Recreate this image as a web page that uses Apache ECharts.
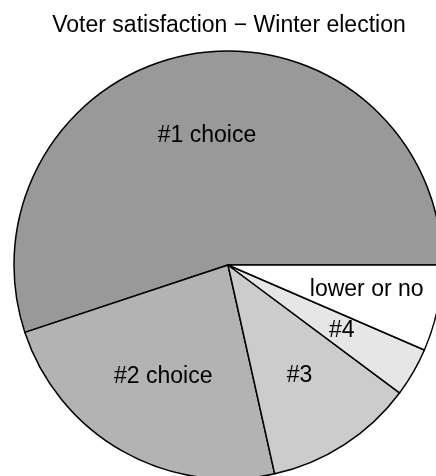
<!DOCTYPE html>
<html>
<head>
<meta charset="utf-8">
<script src="https://cdn.jsdelivr.net/npm/echarts@6/dist/echarts.min.js"></script>
<style>html,body{margin:0;padding:0;background:#fff;}#c{width:436px;height:476px;}</style>
</head>
<body>
<div id="c"></div>
<script>
var titleText = 'Voter satisfaction \u2212 Winter election';
var categories = ['#1 choice', '#2 choice', '#3', '#4', 'lower or no'];
var values = [55.1, 23.4, 11.3, 3.7, 6.5];
var colors = ['#999999', '#b3b3b3', '#cccccc', '#e6e6e6', '#ffffff'];

var FONT = 'Liberation Sans, Arial, sans-serif';
var R = 214;

var mainData = categories.map(function (c, i) {
  return { name: c, value: values[i], itemStyle: { color: colors[i] } };
});
var labelData = categories.map(function (c, i) {
  var d = { name: c, value: values[i] };
  if (i === 4) d.label = { offset: [10, -2] };
  if (i === 1) d.label = { offset: [0, -3] };
  return d;
});

var chart = echarts.init(document.getElementById('c'));
chart.setOption({
  animation: false,
  backgroundColor: '#ffffff',
  title: {
    text: titleText,
    left: 224, top: 9, textAlign: 'center',
    textStyle: { fontFamily: FONT, fontSize: 23, fontWeight: 'normal', color: '#000' }
  },
  series: [
    {
      type: 'pie',
      center: [228, 265],
      radius: [0, R],
      startAngle: 0,
      clockwise: false,
      minAngle: 0,
      avoidLabelOverlap: false,
      silent: true,
      label: { show: false },
      labelLine: { show: false },
      itemStyle: { borderColor: '#000', borderWidth: 1.5 },
      data: mainData
    },
    {
      type: 'pie',
      center: [228, 265],
      radius: [0, R * 1.2],
      startAngle: 0,
      clockwise: false,
      minAngle: 0,
      avoidLabelOverlap: false,
      silent: true,
      z: 3,
      itemStyle: { color: 'rgba(0,0,0,0)', borderWidth: 0 },
      label: {
        show: true, position: 'inside', formatter: '{b}',
        fontFamily: FONT, fontSize: 23, color: '#000'
      },
      labelLine: { show: false },
      data: labelData
    }
  ]
});
</script>
</body>
</html>
